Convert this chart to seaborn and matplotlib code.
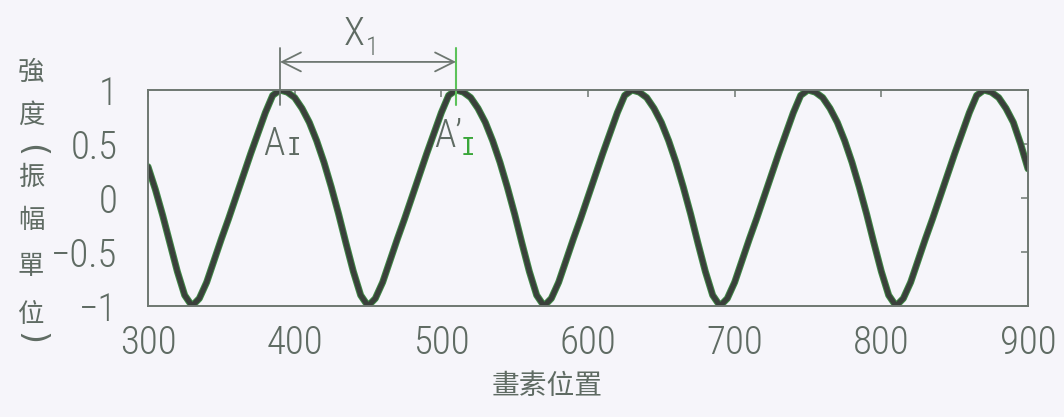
import numpy as np
import pandas as pd
import matplotlib
matplotlib.use("Agg")
import matplotlib.pyplot as plt
from matplotlib import font_manager
import seaborn as sns

# Pixel positions along the line scan (sampled every 5 pixels)
pixel_pos = np.arange(300, 901, 5)

# Normalised intensity at each sampled pixel position
intensity = [
    0.29, 0.08, -0.16, -0.42, -0.68, -0.90, -1.00,
    -0.93, -0.78, -0.58, -0.38, -0.19, 0.01, 0.21, 0.41, 0.60, 0.79, 0.95, 1.00,
    0.98, 0.93, 0.83, 0.70, 0.53, 0.33, 0.10, -0.15, -0.42, -0.68, -0.90, -1.00,
    -0.93, -0.78, -0.58, -0.38, -0.19, 0.01, 0.21, 0.41, 0.60, 0.79, 0.95, 1.00,
    0.98, 0.93, 0.83, 0.70, 0.53, 0.33, 0.10, -0.15, -0.42, -0.68, -0.90, -1.00,
    -0.93, -0.78, -0.58, -0.38, -0.19, 0.01, 0.21, 0.41, 0.60, 0.79, 0.95, 1.00,
    0.98, 0.93, 0.83, 0.70, 0.53, 0.33, 0.10, -0.15, -0.42, -0.68, -0.90, -1.00,
    -0.93, -0.78, -0.58, -0.38, -0.19, 0.01, 0.21, 0.41, 0.60, 0.79, 0.95, 1.00,
    0.98, 0.93, 0.83, 0.70, 0.53, 0.33, 0.10, -0.15, -0.42, -0.68, -0.90, -1.00,
    -0.93, -0.78, -0.58, -0.38, -0.19, 0.01, 0.21, 0.41, 0.60, 0.79, 0.95, 1.00,
    0.98, 0.93, 0.83, 0.70, 0.50, 0.27,
]

# Two neighbouring peaks marked with the period X1
peak_a = 390
peak_b = 510

x_ticks = [300, 400, 500, 600, 700, 800, 900]
y_ticks = [-1, -0.5, 0, 0.5, 1]
y_label_chars = ["強", "度", "振", "幅", "單", "位"]
x_label = "畫素位置"

df = pd.DataFrame({"pos": pixel_pos, "amp": intensity})

sns.set_theme(style="white")

# Prefer a narrow sans for the numerals when one is available
installed = {f.name for f in font_manager.fontManager.ttflist}
narrow_choices = ["Roboto Condensed", "Liberation Sans Narrow", "DejaVu Sans Condensed",
                  "Noto Sans Condensed", "Open Sans Condensed"]
narrow = [f for f in narrow_choices if f in installed]
num_fonts = (narrow[:1] or ["Liberation Sans"]) + ["DejaVu Sans"]
num_size = 28 if narrow else 24
cjk_fonts = ["Noto Sans CJK TC", "DejaVu Sans"]
plt.rcParams["font.family"] = num_fonts
plt.rcParams["axes.unicode_minus"] = True

W, H = 1064, 417
bg = "#f6f5fa"
ink = "#5f6b63"
frame = "#6e7771"
green = "#5cc25a"

fig = plt.figure(figsize=(W / 100, H / 100), dpi=100, facecolor=bg)
ax = fig.add_axes([148 / W, 1 - 306 / H, (1028 - 148) / W, (306 - 90) / H])
ax.set_facecolor(bg)

# Green fringe under a dark core gives the printed look of the trace
sns.lineplot(data=df, x="pos", y="amp", ax=ax, color="#3f8a45", linewidth=5.0)
sns.lineplot(data=df, x="pos", y="amp", ax=ax, color="#3a403b", linewidth=3.6)

ax.set_xlim(300, 900)
ax.set_ylim(-1, 1)
ax.set_xticks(x_ticks)
ax.set_yticks(y_ticks)
ax.set_xticklabels([str(v) for v in x_ticks])
ax.set_yticklabels(["\u22121", "\u22120.5", "0", "0.5", "1"])
ax.tick_params(direction="in", length=5, width=1.1, color=frame,
               top=True, right=True, labelsize=num_size, labelcolor=ink, pad=13)
ax.tick_params(axis="y", pad=22)
for lab in ax.get_xticklabels() + ax.get_yticklabels():
    lab.set_fontweight("light")
for s in ax.spines.values():
    s.set_color(frame)
    s.set_linewidth(1.4)
ax.set_xlabel("")
ax.set_ylabel("")

# Axis titles in Traditional Chinese
fig.text(547 / W, 1 - 386 / H, x_label, ha="center", va="center",
         fontsize=20, color=ink, family=cjk_fonts)
y_centres = [72, 115, 177, 220, 266, 314]
for ch, yc in zip(y_label_chars, y_centres):
    fig.text(31 / W, 1 - yc / H, ch, ha="center", va="center",
             fontsize=19, color=ink, family=cjk_fonts)
# Brackets of the vertical title, turned to lie across the column
fig.text(31 / W, 1 - 150 / H, "(", ha="center", va="center", rotation=-90,
         fontsize=24, color=ink, family=["DejaVu Sans"])
fig.text(31 / W, 1 - 338 / H, ")", ha="center", va="center", rotation=-90,
         fontsize=24, color=ink, family=["DejaVu Sans"])

# Peak markers and the period arrow
mark_lo, mark_hi, arrow_y = 0.86, 1.39, 1.26
ax.plot([peak_a, peak_a], [mark_lo, mark_hi], color=frame, lw=1.3, clip_on=False)
ax.plot([peak_b, peak_b], [mark_lo, mark_hi], color=green, lw=1.5, clip_on=False)
ax.annotate("", xy=(peak_a, arrow_y), xytext=(peak_b, arrow_y),
            arrowprops=dict(arrowstyle="<->", color=frame, lw=1.3,
                            mutation_scale=34, shrinkA=0, shrinkB=0),
            annotation_clip=False)

mid = (peak_a + peak_b) / 2
ax.annotate("X", xy=(mid, arrow_y), xytext=(-14, 17),
            textcoords="offset pixels", ha="center", va="baseline",
            fontsize=num_size, color=ink, fontweight="light", annotation_clip=False)
ax.annotate("1", xy=(mid, arrow_y), xytext=(4, 7),
            textcoords="offset pixels", ha="center", va="baseline",
            fontsize=num_size * 0.68, color=ink, fontweight="light",
            annotation_clip=False)

ax.annotate("A", xy=(peak_a, 1), xytext=(-6, -65), textcoords="offset pixels",
            ha="center", va="baseline", fontsize=num_size, color=ink,
            fontweight="light")
ax.annotate("I", xy=(peak_a, 1), xytext=(14, -65), textcoords="offset pixels",
            ha="center", va="baseline", fontsize=17, color=ink,
            family=["DejaVu Sans Mono"])
ax.annotate("A\u2019", xy=(peak_b, 1), xytext=(-8, -57), textcoords="offset pixels",
            ha="center", va="baseline", fontsize=num_size, color=ink,
            fontweight="light")
ax.annotate("I", xy=(peak_b, 1), xytext=(12, -65), textcoords="offset pixels",
            ha="center", va="baseline", fontsize=17, color="#3aa63a",
            family=["DejaVu Sans Mono"])

fig.savefig("out.png", dpi=100, facecolor=bg)
